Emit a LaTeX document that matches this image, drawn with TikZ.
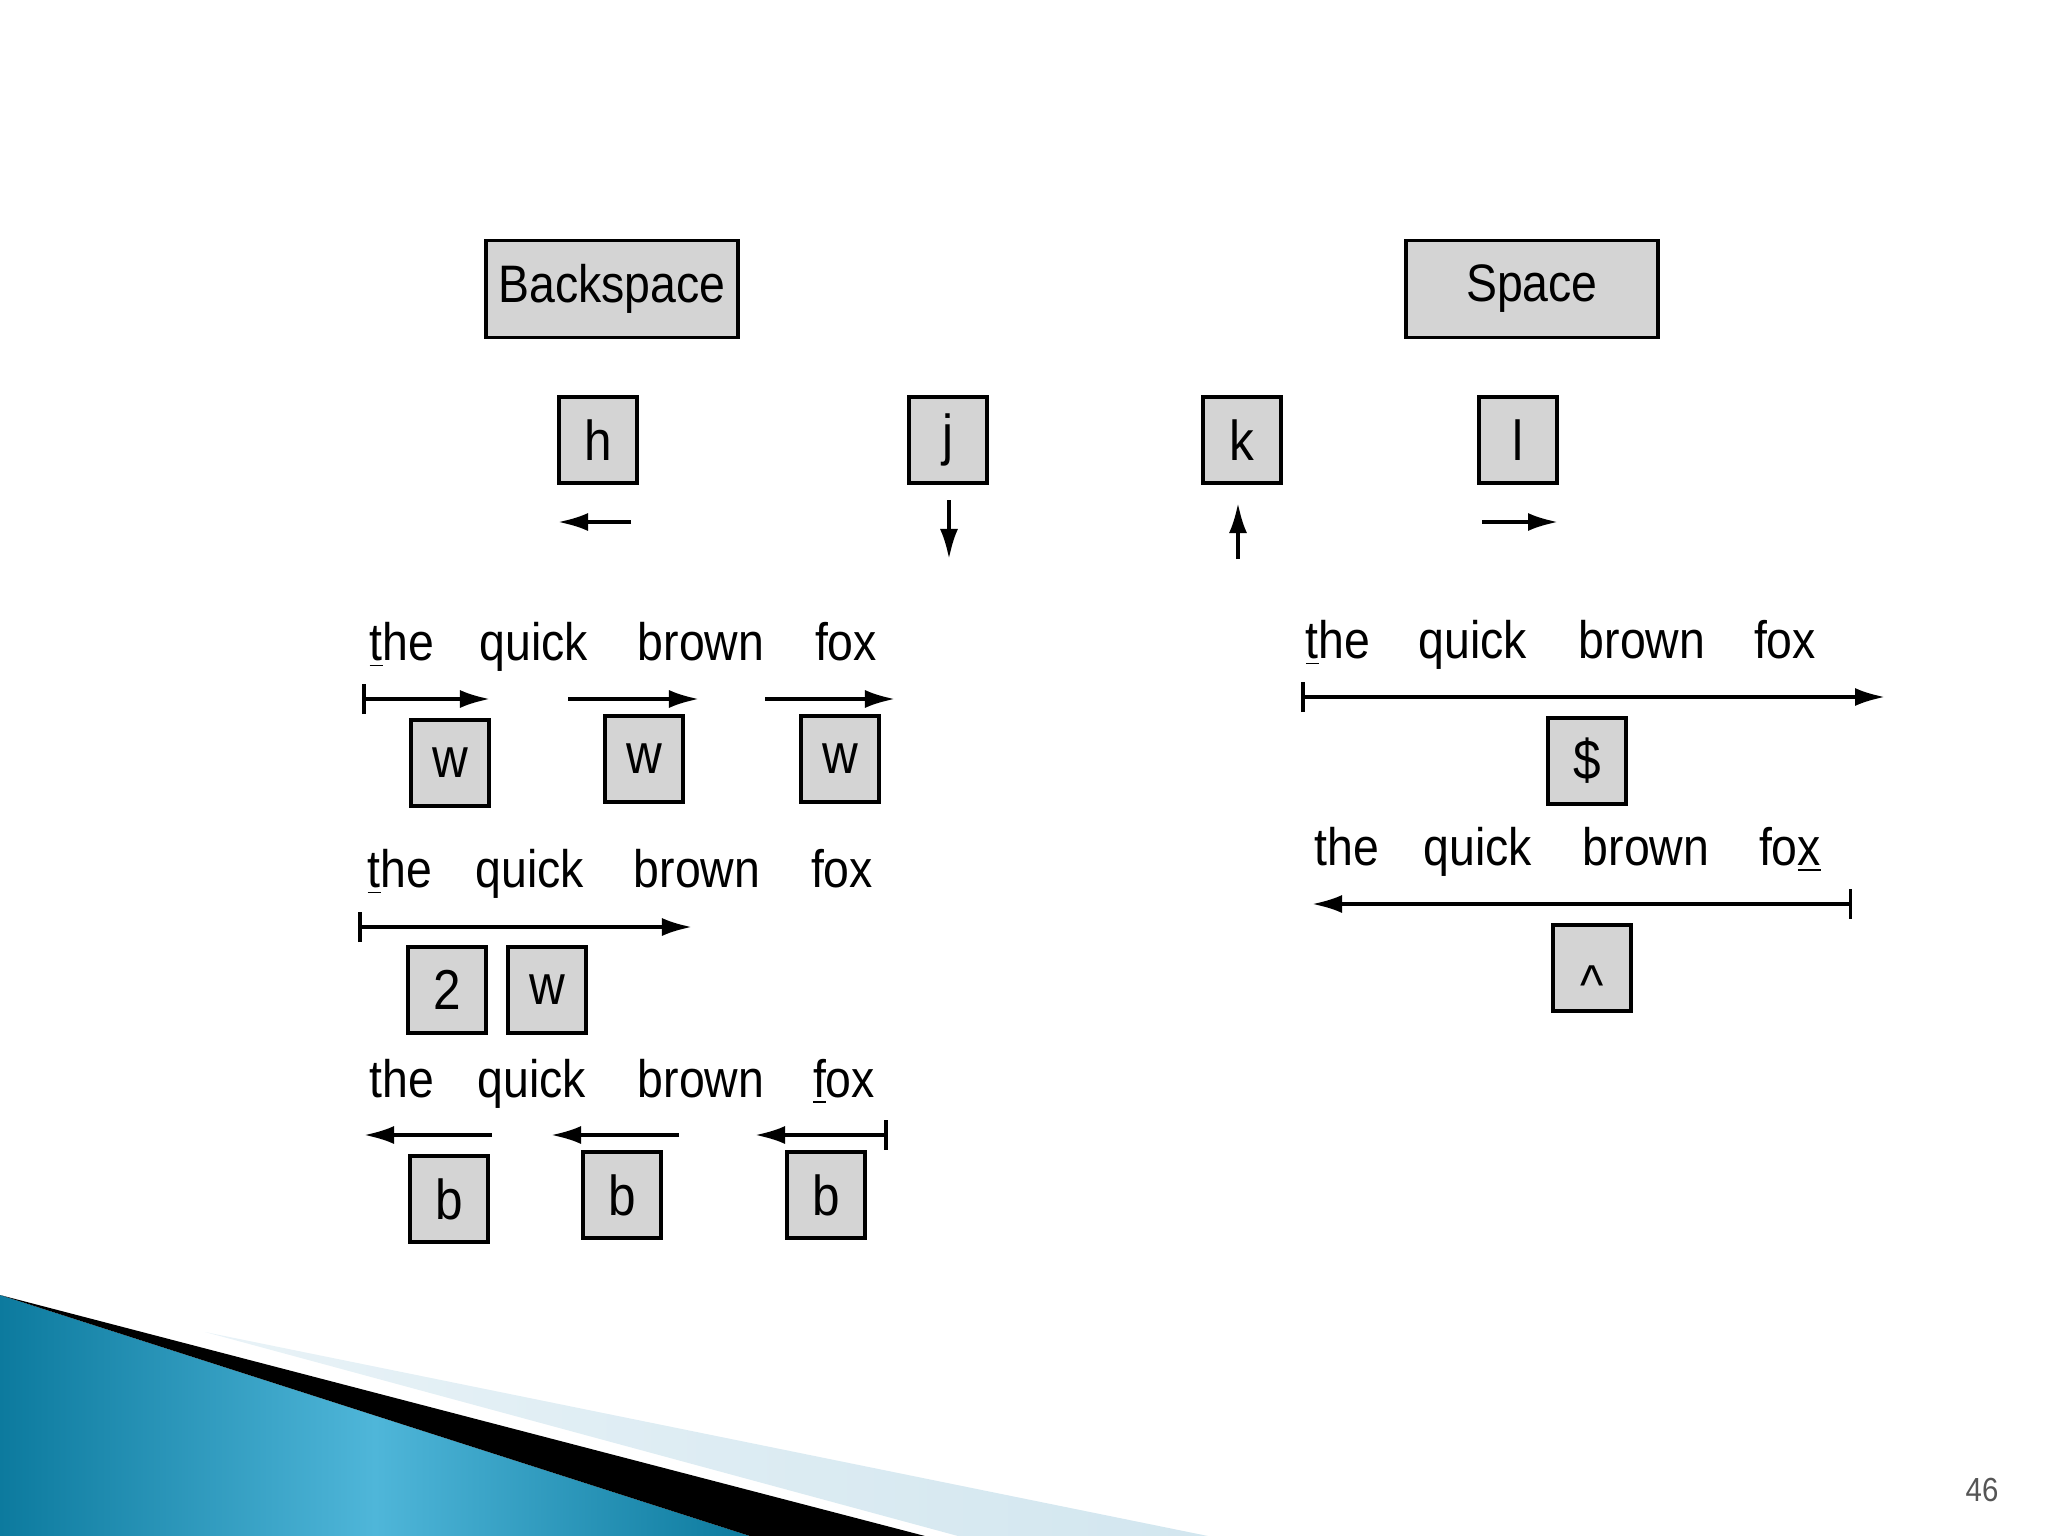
\documentclass[tikz,border=0pt]{standalone}
\usepackage{fontspec}
\setmainfont{Liberation Sans}[FakeStretch=0.88]
\usetikzlibrary{arrows.meta}
\definecolor{keygray}{HTML}{D4D4D4}
\definecolor{decoblue}{HTML}{0C7A9E}
\definecolor{decolight}{HTML}{4FB6D9}
\definecolor{decopale}{HTML}{D2E6EF}
\definecolor{pagegray}{HTML}{555555}

\begin{document}
\begin{tikzpicture}[x=0.01cm,y=-0.01cm,
  key/.style={draw,fill=keygray,line width=1.1pt,minimum width=7.8mm,minimum height=8.6mm,
    inner sep=0,font=\fontsize{16}{16}\selectfont},
  bigkey/.style={key,minimum width=25.2mm,minimum height=9.7mm,font=\fontsize{15}{15}\selectfont},
  word/.style={anchor=base,inner sep=0,font=\fontsize{15}{15}\selectfont},
  mv/.style={-{Latex[length=3mm,width=1.8mm]},line width=1pt},
  mvbar/.style={{Bar[width=3mm]}-{Latex[length=3mm,width=1.8mm]},line width=1pt}]
  \useasboundingbox (0,0) rectangle (2048,1536);

  % slide decoration
  \shade[left color=decoblue,right color=decoblue,middle color=decolight]
    (0,1295) -- (750,1536) -- (0,1536) -- cycle;
  \fill[black] (0,1295) -- (925,1536) -- (750,1536) -- cycle;
  \shade[left color=decopale!50,right color=decopale]
    (205,1332) -- (1208,1536) -- (958,1536) -- cycle;
  \node[font=\fontsize{9.5}{9.5}\selectfont,text=pagegray] (pnum) at (1982,1490) {46};

  % keys
  \node[bigkey] (bksp) at (612,289) {Backspace};
  \node[bigkey] (spc) at (1532,289) {Space};
  \foreach \name/\x/\y/\txt in {
    kh/598/440/h,kj/948/440/j,kk/1242/440/k,kl/1518/440/l,
    wa/450/763/w,wb/644/759/w,wc/840/759/w,two/447/990/2,wd/547/990/w,
    ba/449/1199/b,bb/622/1195/b,bc/826/1195/b,
    dol/1587/761/\$,car/1592/968/{\raisebox{-10.5pt}[0pt][0pt]{\textasciicircum}}}
    \node[key] (\name) at (\x,\y) {\txt};

  % sample lines
  \foreach \name/\x/\y/\txt in {
    lat/402/660/{\underline{t}he},laq/534/660/quick,lab/701/660/brown,laf/846/660/fox,
    lbt/400/887/{\underline{t}he},lbq/530/887/quick,lbb/697/887/brown,lbf/842/887/fox,
    lct/402/1097/the,lcq/532/1097/quick,lcb/701/1097/brown,lcf/844/1097/{\underline{f}ox},
    rat/1338/658/{\underline{t}he},raq/1473/658/quick,rab/1642/658/brown,raf/1785/658/fox,
    rbt/1347/865/the,rbq/1478/865/quick,rbb/1646/865/brown,rbf/1790/865/{fo\underline{x}}}
    \node[word] (\name) at (\x,\y) {\txt};

  % motions
  \foreach \name/\xa/\ya/\xb/\yb/\sty in {
    mh/631/522/558/522/mv,mj/949/500/949/559/mv,mk/1238/559/1238/503/mv,ml/1482/522/1558/522/mv,
    wa/362/699/490/699/mvbar,wb/568/699/699/699/mv,wc/765/699/895/699/mv,
    tw/358/927/692/927/mvbar,
    ba/492/1135/364/1135/mv,bb/679/1135/551/1135/mv,bc/888/1135/755/1135/mvbar,
    dol/1301/697/1885/697/mvbar,car/1852/904/1312/904/mvbar} {
    \coordinate (\name s) at (\xa,\ya);
    \coordinate (\name e) at (\xb,\yb);
    \draw[\sty] (\name s) -- (\name e);
  }
\end{tikzpicture}
\end{document}
